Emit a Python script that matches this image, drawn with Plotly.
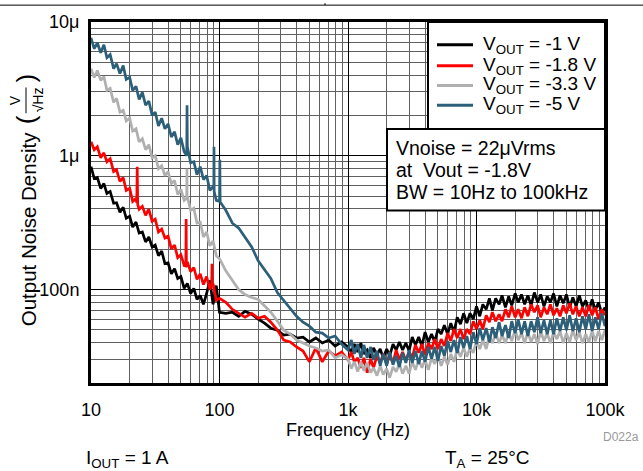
import plotly.graph_objects as go

# ---------------- data ----------------
# frequency sampling: 1/40-decade mantissas, used for 10-100 Hz and 1k-100k Hz
mantissa = [1.00, 1.06, 1.12, 1.19, 1.26, 1.33, 1.41, 1.50, 1.58, 1.68,
            1.78, 1.88, 2.00, 2.11, 2.24, 2.37, 2.51, 2.66, 2.82, 2.99,
            3.16, 3.35, 3.55, 3.76, 3.98, 4.22, 4.47, 4.73, 5.01, 5.31,
            5.62, 5.96, 6.31, 6.68, 7.08, 7.50, 7.94, 8.41, 8.91, 9.44]
freq_mid_hz = [112, 126, 141, 158, 178, 200, 224, 251, 282, 316,
               355, 398, 447, 501, 562, 631, 708, 794, 891]
freq_hz = ([m * 10 for m in mantissa] + [100] + freq_mid_hz +
           [m * 10 ** d for d in (3, 4) for m in mantissa] + [100000])

# output noise density in nV/sqrt(Hz)
vout_1v_nv = [
    829, 675, 687, 570, 620, 523, 541, 441, 445, 378,
    412, 341, 353, 293, 319, 264, 269, 227, 247, 208,
    215, 179, 194, 156, 158, 131, 143, 121, 125, 102,
    111, 93.4, 102, 84.3, 90.2, 77.4, 93.4, 117, 77.4, 107,
    67.6,
    66.4, 67.6, 63.1, 68.7, 65.3, 60.0, 56.0, 51.4, 49.7, 45.6,
    46.4, 43.4, 44.1, 40.5, 43.4, 39.8, 41.9, 37.8, 40.5,
    37.2, 34.1, 39.1, 34.1, 39.8, 33.0, 35.3, 30.8, 36.6, 32.5,
    35.9, 30.8, 35.9, 31.9, 39.1, 35.3, 40.5, 35.3, 39.8, 34.7,
    44.1, 38.5, 44.1, 37.8, 48.0, 40.5, 46.4, 40.5, 50.6, 46.4,
    54.1, 46.4, 56.0, 48.0, 62.0, 55.1, 66.4, 56.0, 66.4, 60.0,
    74.8, 63.1, 77.4, 71.1, 85.8, 69.9, 85.8, 77.4, 90.2, 73.6,
    88.7, 76.1, 93.4, 80.1, 91.8, 77.4, 90.2, 76.1, 95.0, 80.1,
    91.8, 74.8, 88.7, 80.1, 93.4, 74.8, 90.2, 78.8, 91.8, 73.6,
    87.2, 74.8, 90.2, 74.8, 82.9, 69.9, 84.3, 69.9, 80.1, 66.4,
    73.6]
vout_1v_extra = []

vout_1v8_nv = [
    1270, 1108, 1166, 966, 1052, 902, 950, 761, 787, 642,
    687, 551, 570, 456, 480, 398, 419, 359, 398, 324,
    336, 269, 283, 243, 251, 201, 215, 173, 182, 151,
    161, 136, 146, 119, 131, 109, 125, 100, 111, 82.9,
    85.8,
    80.1, 71.1, 66.4, 62.0, 66.4, 61.0, 63.1, 57.0, 49.7, 41.9,
    40.5, 37.2, 34.7, 28.8, 36.6, 28.8, 34.7, 31.9, 34.1,
    29.8, 34.1, 28.8, 30.8, 26.0, 30.8, 23.9, 30.3, 26.0, 31.9,
    28.3, 33.0, 27.8, 31.9, 28.3, 35.3, 29.8, 34.1, 29.3, 34.1,
    30.8, 38.5, 33.6, 39.1, 32.5, 39.8, 35.9, 42.6, 35.9, 42.6,
    37.8, 47.2, 41.2, 50.6, 43.4, 50.6, 42.6, 50.6, 46.4, 57.9,
    50.6, 58.9, 50.6, 64.2, 57.0, 67.6, 57.9, 65.3, 57.9, 71.1,
    62.0, 74.8, 62.0, 71.1, 61.0, 73.6, 63.1, 77.4, 67.6, 76.1,
    62.0, 73.6, 65.3, 77.4, 64.2, 72.3, 63.1, 76.1, 66.4, 78.8,
    65.3, 74.8, 63.1, 73.6, 63.1, 76.1, 64.2, 73.6, 60.0, 71.1,
    64.2]
vout_1v8_extra = [(22.7, 445), (22.9, 829), (23.1, 430),
                  (54.7, 150), (55.0, 336), (55.3, 148),
                  (87.0, 110), (87.4, 156), (87.8, 104)]

vout_3v3_nv = [
    4480, 3850, 4340, 3660, 3910, 3080, 3190, 2510, 2690, 2120,
    2190, 1820, 1910, 1530, 1590, 1270, 1340, 1110, 1210, 966,
    1000, 801, 843, 711, 761, 620, 653, 514, 560, 464,
    497, 391, 405, 314, 319, 247, 269, 212, 231, 179,
    170,
    138, 117, 100, 91.8, 87.2, 84.3, 76.1, 67.6, 58.0, 49.7,
    46.4, 41.9, 39.8, 37.8, 36.6, 34.7, 35.3, 30.8, 32.5,
    30.3, 25.6, 28.8, 24.3, 28.8, 24.7, 28.3, 23.9, 26.0, 22.7,
    26.9, 23.1, 25.6, 21.9, 26.4, 24.3, 27.8, 23.5, 26.9, 23.5,
    28.8, 25.1, 29.8, 26.0, 29.8, 25.1, 30.8, 27.8, 31.9, 26.9,
    31.4, 27.4, 33.0, 28.8, 35.9, 31.4, 36.6, 31.4, 36.6, 33.6,
    41.2, 35.9, 41.9, 35.9, 44.9, 39.8, 47.2, 39.8, 45.6, 39.8,
    48.0, 41.2, 49.7, 41.9, 47.2, 39.8, 48.0, 40.5, 46.4, 39.1,
    48.9, 41.2, 47.2, 39.8, 48.0, 42.6, 48.9, 39.8, 47.2, 40.5,
    49.7, 41.9, 48.0, 39.8, 46.4, 40.5, 48.9, 41.2, 48.9, 41.9,
    49.7]
vout_3v3_extra = [(55.5, 480), (55.8, 800), (56.0, 470)]

vout_5v_nv = [
    7610, 6310, 6990, 5890, 6760, 5410, 5700, 4480, 4880, 4120,
    4720, 3720, 3850, 3080, 3300, 2640, 2980, 2390, 2560, 2010,
    2120, 1670, 1910, 1590, 1730, 1380, 1510, 1210, 1360, 1070,
    1170, 887, 902, 723, 829, 664, 711, 551, 589, 464,
    456,
    391, 313, 288, 243, 208, 164, 141, 121, 95.0, 82.9,
    72.3, 63.1, 57.0, 53.2, 48.0, 47.2, 43.4, 44.9, 39.1,
    35.3, 41.9, 33.0, 39.1, 30.8, 38.5, 30.8, 37.2, 29.8, 34.7,
    26.9, 33.0, 26.9, 34.1, 27.4, 31.9, 26.4, 33.6, 28.3, 35.3,
    28.3, 34.7, 27.8, 34.7, 28.8, 37.2, 30.3, 37.2, 29.3, 37.8,
    31.9, 41.2, 34.1, 41.9, 33.6, 44.1, 36.6, 44.9, 35.9, 48.0,
    39.1, 51.4, 41.9, 51.4, 40.5, 52.3, 43.4, 57.0, 44.9, 54.1,
    43.4, 57.9, 47.2, 60.0, 46.4, 57.9, 44.9, 57.9, 48.0, 62.0,
    47.2, 58.9, 46.4, 58.9, 46.4, 61.0, 48.9, 62.0, 49.7, 64.2,
    48.9, 61.0, 48.0, 63.1, 50.6, 65.3, 48.9, 62.0, 50.6, 66.4,
    53.2]
vout_5v_extra = [(55.6, 1000), (55.9, 2385), (56.1, 1100),
                 (90.3, 560), (90.6, 1166), (90.9, 540),
                 (100.6, 934), (101.2, 450)]

series_names = ["V<sub>OUT</sub> = -1 V", "V<sub>OUT</sub> = -1.8 V",
                "V<sub>OUT</sub> = -3.3 V", "V<sub>OUT</sub> = -5 V"]
series_colors = ["#000000", "#ff0000", "#b0b0b0", "#2b5f7a"]

x_tick_vals = [10, 100, 1000, 10000, 100000]
x_tick_text = ["10", "100", "1k", "10k", "100k"]
y_tick_vals = [1e-7, 1e-6, 1e-5]
y_tick_text = ["100n", "1\u03bc", "10\u03bc"]

note_lines = ["Vnoise = 22\u03bcVrms", "at\u00a0 Vout = -1.8V", "BW = 10Hz to 100kHz"]

# ---------------- layout helpers ----------------
W_FIG, H_FIG = 643, 471
L, R, T, B = 91, 605, 19, 383
PW, PH = R - L, B - T
FONT = "Liberation Sans, Arial, sans-serif"


def px(x):
    return (x - L) / PW


def py(y):
    return 1 - (y - T) / PH


def merge(vals, extra):
    if len(vals) != len(freq_hz):
        raise ValueError("length mismatch %d vs %d" % (len(vals), len(freq_hz)))
    pts = list(zip(freq_hz, vals)) + list(extra)
    pts.sort(key=lambda p: p[0])
    return [p[0] for p in pts], [p[1] * 1e-9 for p in pts]


fig = go.Figure()
all_series = [(vout_1v_nv, vout_1v_extra), (vout_1v8_nv, vout_1v8_extra),
              (vout_3v3_nv, vout_3v3_extra), (vout_5v_nv, vout_5v_extra)]
for (vals, extra), name, color in zip(all_series, series_names, series_colors):
    f, v = merge(vals, extra)
    fig.add_trace(go.Scatter(x=f, y=v, mode="lines", name=name,
                             line=dict(color=color, width=2.7),
                             showlegend=False))

x_minor = [m * 10 ** k for k in range(1, 5) for m in range(2, 10)]
y_minor = [m * 10.0 ** k for k in (-8, -7, -6) for m in range(2, 10) if m * 10.0 ** k >= 2e-8]

axis_common = dict(showline=True, linecolor="black", linewidth=3, mirror=True,
                   showgrid=True, gridcolor="black", gridwidth=1,
                   tickfont=dict(family=FONT, size=18, color="black"),
                   ticks="outside", tickcolor="rgba(0,0,0,0)")

fig.update_xaxes(type="log", range=[1, 5], tickmode="array",
                 tickvals=x_tick_vals, ticktext=x_tick_text, ticklen=8,
                 minor=dict(tickmode="array", tickvals=x_minor, showgrid=True,
                            gridcolor="#606060", gridwidth=1),
                 title=dict(text="Frequency (Hz)", font=dict(family=FONT, size=18, color="black"),
                            standoff=2),
                 **axis_common)
fig.update_yaxes(type="log", range=[-7.699, -5], tickmode="array",
                 tickvals=y_tick_vals, ticktext=y_tick_text, ticklen=5,
                 minor=dict(tickmode="array", tickvals=y_minor, showgrid=True,
                            gridcolor="#606060", gridwidth=1),
                 **axis_common)

shapes = []
annotations = []

# legend box and entries
shapes.append(dict(type="rect", xref="paper", yref="paper", x0=px(428), x1=px(605),
                   y0=py(127), y1=py(19), line=dict(color="black", width=2),
                   fillcolor="white", layer="above"))
legend_y = [42, 63, 83, 103]
for name, color, yy in zip(series_names, series_colors, legend_y):
    shapes.append(dict(type="line", xref="paper", yref="paper", x0=px(437), x1=px(473),
                       y0=py(yy), y1=py(yy), line=dict(color=color, width=3), layer="above"))
    annotations.append(dict(xref="paper", yref="paper", x=px(481), y=py(yy), text=name,
                            showarrow=False, xanchor="left", yanchor="middle",
                            font=dict(family=FONT, size=19, color="black")))

# note box
shapes.append(dict(type="rect", xref="paper", yref="paper", x0=px(387), x1=px(605),
                   y0=py(209), y1=py(127), line=dict(color="black", width=2),
                   fillcolor="white", layer="above"))
for line_text, yy in zip(note_lines, [146, 168, 190]):
    annotations.append(dict(xref="paper", yref="paper", x=px(394), y=py(yy), text=line_text,
                            showarrow=False, xanchor="left", yanchor="middle",
                            font=dict(family=FONT, size=19.5, color="black")))


def ann(x, y, text, size, angle=-90, color="black", xanchor="center"):
    annotations.append(dict(xref="paper", yref="paper", x=px(x), y=py(y), text=text,
                            showarrow=False, xanchor=xanchor, yanchor="middle",
                            textangle=angle, font=dict(family=FONT, size=size, color=color)))


# y-axis title with a V / sqrt(Hz) fraction
ann(28, 228, "Output Noise Density", 20.5)
ann(26, 118, "(", 26)
ann(26, 76, ")", 26)
ann(15, 98, "V", 14)
ann(38, 98, "\u221aHz", 14)
shapes.append(dict(type="line", xref="paper", yref="paper", x0=px(26), x1=px(26),
                   y0=py(85), y1=py(111), line=dict(color="black", width=1)))

# footer texts
ann(84, 460, "I<sub>OUT</sub> = 1 A", 19, angle=0, xanchor="left")
ann(443, 460, "T<sub>A</sub> = 25\u00b0C", 19, angle=0, xanchor="left")
annotations.append(dict(xref="paper", yref="paper", x=px(641), y=py(437), text="D022a",
                        showarrow=False, xanchor="right", yanchor="middle",
                        font=dict(family=FONT, size=12, color="#999999")))

# page border fragment at the top
shapes.append(dict(type="line", xref="paper", yref="paper", x0=px(0), x1=px(643),
                   y0=py(2), y1=py(2), line=dict(color="black", width=1)))
shapes.append(dict(type="line", xref="paper", yref="paper", x0=px(325), x1=px(325),
                   y0=py(0), y1=py(2), line=dict(color="black", width=1)))

fig.update_layout(width=W_FIG, height=H_FIG,
                  margin=dict(l=L, r=W_FIG - R, t=T, b=H_FIG - B),
                  plot_bgcolor="white", paper_bgcolor="white",
                  shapes=shapes, annotations=annotations, showlegend=False)

fig.write_html("out.html", config={"displayModeBar": False},
               post_script="document.body.style.margin='0';document.body.style.overflow='hidden';")
